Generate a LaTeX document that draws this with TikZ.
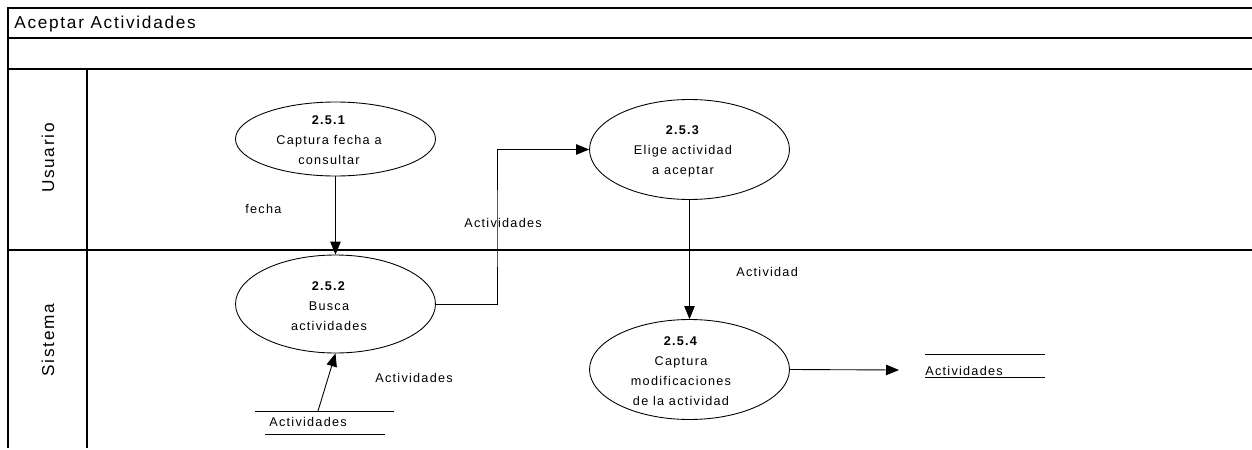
\documentclass[tikz,border=0pt]{standalone}
\usepackage{fontspec}
\setmainfont{Liberation Sans}[LetterSpace=10]
\usetikzlibrary{shapes.geometric, arrows.meta}

\begin{document}
\begin{tikzpicture}[x=0.02cm, y=-0.02cm,
	marco/.style={line width=0.9pt},
	proceso/.style={draw, ellipse, line width=0.5pt, minimum width=4cm, minimum height=2cm, inner sep=0pt},
	texto/.style={font=\fontsize{7.2}{11.4}\selectfont, align=center, inner sep=0pt},
	etiqueta/.style={font=\fontsize{7.2}{8}\selectfont, anchor=west, inner sep=0pt},
	flujo/.style={line width=0.5pt, -{Triangle[length=2.6mm, width=2.1mm]}}]

\useasboundingbox (0,0) rectangle (1252,450);

	% Zeichnet den Rahmen mit Titel und Bahnen
	\draw[marco] (1252,8) -- (8,8) -- (8,448);
	\draw[marco] (8,38) -- (1252,38);
	\draw[marco] (8,69) -- (1252,69);
	\draw[marco] (8,250) -- (1252,250);
	\draw[line width=0.6pt] (87,69) -- (87,448);

	\node[anchor=west, inner sep=0pt, font=\fontsize{9.8}{11}\selectfont] (titulo) at (14,24) {Aceptar Actividades};
	\node[rotate=90, font=\fontsize{9.8}{11}\selectfont] (usuario) at (48,158) {Usuario};
	\node[rotate=90, font=\fontsize{9.8}{11}\selectfont] (sistema) at (48,340) {Sistema};

	% Prozesse
	\node[proceso, minimum height=1.48cm] (p251) at (335.5,139) {};
	\node[texto] (t251) at (329,140) {\textbf{2.5.1}\\Captura fecha a\\consultar};

	\node[proceso, minimum height=1.96cm] (p252) at (335.5,304) {};
	\node[texto] (t252) at (329,306) {\textbf{2.5.2}\\Busca\\actividades};

	\node[proceso] (p253) at (689.5,149.5) {};
	\node[texto] (t253) at (683,151) {\textbf{2.5.3}\\Elige actividad\\a aceptar};

	\node[proceso] (p254) at (689.5,369.5) {};
	\node[texto] (t254) at (681,371) {\textbf{2.5.4}\\Captura\\modificaciones\\de la actividad};

	% Almacenes
	\draw[line width=0.5pt] (255,411) -- (394,411);
	\draw[line width=0.5pt] (265,434) -- (385,434);
	\node[etiqueta] (alm1) at (269,422) {Actividades};
	\coordinate (s1) at (318,411);

	\draw[line width=0.5pt] (925,354) -- (1045,354);
	\draw[line width=0.5pt] (925,377) -- (1045,377);
	\node[etiqueta, anchor=base west] (alm2) at (925,375) {Actividades};
	\coordinate (s2) at (899,370);

	% Flujos
	\coordinate (codo) at (497,230);
	\draw[flujo] (p251) -- (p252);
	\draw[flujo] (p252.east) -| (codo) |- (p253.west);
	\draw[flujo] (p253) -- (p254);
	\draw[flujo] (p254.east) -- (s2);
	\draw[flujo] (s1) -- (p252.south);

	% Beschriftungen
	\node[etiqueta] (l1) at (245,209) {fecha};
	\node[etiqueta] (l2) at (464,223) {Actividades};
	\node[etiqueta] (l3) at (736,272) {Actividad};
	\node[etiqueta] (l4) at (375,378) {Actividades};

\end{tikzpicture}
\end{document}
